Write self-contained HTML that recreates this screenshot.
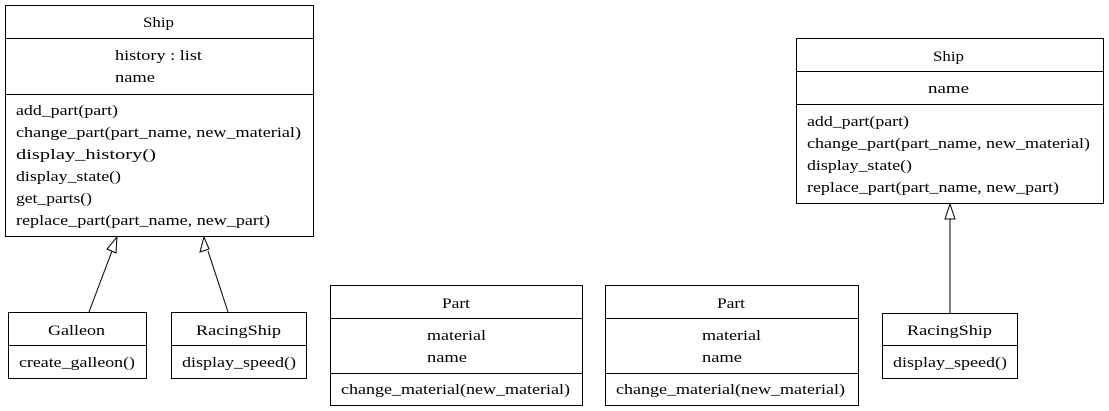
<!DOCTYPE html>
<html><head><style>body{margin:0;background:#fff}svg{display:block}text{font-family:"Liberation Serif",serif;font-size:15px;fill:#000}</style></head><body>
<svg width="1109" height="411" xmlns="http://www.w3.org/2000/svg">
<g fill="none" stroke="#000" stroke-width="1">
<rect x="5.5" y="5.5" width="308" height="231"/><line x1="5" y1="38.5" x2="313" y2="38.5"/><line x1="5" y1="94.5" x2="313" y2="94.5"/>
<rect x="8.5" y="312.5" width="138" height="66"/><line x1="8" y1="345.5" x2="147" y2="345.5"/>
<rect x="171.5" y="312.5" width="135" height="66"/><line x1="171" y1="345.5" x2="306" y2="345.5"/>
<rect x="330.5" y="285.5" width="252" height="120"/><line x1="330" y1="318.5" x2="582" y2="318.5"/><line x1="330" y1="373.5" x2="582" y2="373.5"/>
<rect x="605.5" y="285.5" width="253" height="120"/><line x1="605" y1="318.5" x2="858" y2="318.5"/><line x1="605" y1="373.5" x2="858" y2="373.5"/>
<rect x="796.5" y="38.5" width="307" height="165"/><line x1="796" y1="71.5" x2="1103" y2="71.5"/><line x1="796" y1="104.5" x2="1103" y2="104.5"/>
<rect x="882.5" y="313.5" width="135" height="65"/><line x1="882" y1="345.5" x2="1017" y2="345.5"/>
<line x1="89" y1="312" x2="112" y2="251"/><polygon points="117,237 107,249 116,253" fill="#fff"/>
<line x1="228" y1="312" x2="208" y2="251"/><polygon points="204,237 200,252 209,249" fill="#fff"/>
<line x1="950" y1="313" x2="950" y2="219"/><polygon points="950,204 945,219 955,219" fill="#fff"/>
</g>
<g lengthAdjust="spacingAndGlyphs">
<text x="143" y="27" textLength="31" lengthAdjust="spacingAndGlyphs">Ship</text>
<text x="48" y="335" textLength="57" lengthAdjust="spacingAndGlyphs">Galleon</text>
<text x="196" y="335" textLength="85" lengthAdjust="spacingAndGlyphs">RacingShip</text>
<text x="442" y="308" textLength="28" lengthAdjust="spacingAndGlyphs">Part</text>
<text x="717" y="308" textLength="28" lengthAdjust="spacingAndGlyphs">Part</text>
<text x="933" y="61" textLength="31" lengthAdjust="spacingAndGlyphs">Ship</text>
<text x="928" y="93" textLength="41" lengthAdjust="spacingAndGlyphs">name</text>
<text x="907" y="335" textLength="85" lengthAdjust="spacingAndGlyphs">RacingShip</text>
<text x="115" y="60" textLength="87" lengthAdjust="spacingAndGlyphs">history : list</text>
<text x="115" y="82" textLength="40" lengthAdjust="spacingAndGlyphs">name</text>
<text x="16" y="115" textLength="102" lengthAdjust="spacingAndGlyphs">add_part(part)</text>
<text x="16" y="137" textLength="285" lengthAdjust="spacingAndGlyphs">change_part(part_name, new_material)</text>
<text x="16" y="159" textLength="140" lengthAdjust="spacingAndGlyphs">display_history()</text>
<text x="16" y="181" textLength="105" lengthAdjust="spacingAndGlyphs">display_state()</text>
<text x="16" y="203" textLength="76" lengthAdjust="spacingAndGlyphs">get_parts()</text>
<text x="16" y="225" textLength="254" lengthAdjust="spacingAndGlyphs">replace_part(part_name, new_part)</text>
<text x="19" y="367" textLength="116" lengthAdjust="spacingAndGlyphs">create_galleon()</text>
<text x="182" y="367" textLength="114" lengthAdjust="spacingAndGlyphs">display_speed()</text>
<text x="427" y="340" textLength="59" lengthAdjust="spacingAndGlyphs">material</text>
<text x="427" y="362" textLength="40" lengthAdjust="spacingAndGlyphs">name</text>
<text x="341" y="394" textLength="229" lengthAdjust="spacingAndGlyphs">change_material(new_material)</text>
<text x="702" y="340" textLength="59" lengthAdjust="spacingAndGlyphs">material</text>
<text x="702" y="362" textLength="40" lengthAdjust="spacingAndGlyphs">name</text>
<text x="616" y="394" textLength="229" lengthAdjust="spacingAndGlyphs">change_material(new_material)</text>
<text x="807" y="126" textLength="102" lengthAdjust="spacingAndGlyphs">add_part(part)</text>
<text x="807" y="148" textLength="283" lengthAdjust="spacingAndGlyphs">change_part(part_name, new_material)</text>
<text x="807" y="170" textLength="105" lengthAdjust="spacingAndGlyphs">display_state()</text>
<text x="807" y="192" textLength="252" lengthAdjust="spacingAndGlyphs">replace_part(part_name, new_part)</text>
<text x="893" y="367" textLength="114" lengthAdjust="spacingAndGlyphs">display_speed()</text>
</g>
</svg>
</body></html>
